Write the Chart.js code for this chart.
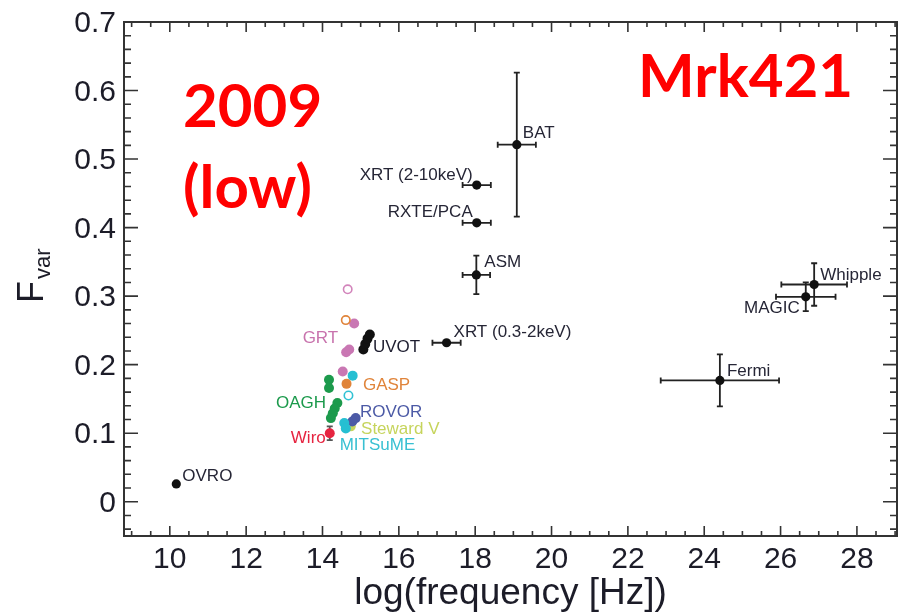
<!DOCTYPE html>
<html>
<head>
<meta charset="utf-8">
<script src="https://cdn.jsdelivr.net/npm/chart.js@4.4.1/dist/chart.umd.min.js"></script>
<style>
  html, body { margin: 0; padding: 0; background: #fff; }
  #wrap { width: 899px; height: 616px; }
</style>
</head>
<body>
<div id="wrap"><canvas id="fvar" width="899" height="616"></canvas></div>
<script>
// axis ticks
const xTicks = [10, 12, 14, 16, 18, 20, 22, 24, 26, 28];
const yTicks = [0, 0.1, 0.2, 0.3, 0.4, 0.5, 0.6, 0.7];

// radio / X-ray / gamma instruments (black, with error bars)
const instNames = ['OVRO', 'BAT', 'XRT (2-10keV)', 'RXTE/PCA', 'ASM', 'XRT (0.3-2keV)', 'Whipple', 'MAGIC', 'Fermi'];
const instLogF  = [10.17, 19.09, 18.04, 18.04, 18.03, 17.25, 26.88, 26.66, 24.41];
const instFvar  = [0.026, 0.521, 0.462, 0.407, 0.331, 0.232, 0.317, 0.299, 0.177];
const instErrF  = [0, 0.50, 0.37, 0.37, 0.36, 0.37, 0.86, 0.78, 1.55];
const instErrV  = [0, 0.105, 0, 0, 0.028, 0, 0.031, 0.021, 0.038];

// optical / UV observatories
const uvotLogF = [15.07, 15.12, 15.18, 15.24];
const uvotFvar = [0.222, 0.230, 0.238, 0.244];
const grtLogF = [14.83, 14.70, 14.62, 14.53];
const grtFvar = [0.260, 0.222, 0.218, 0.190];
const grtOpenLogF = [14.66];
const grtOpenFvar = [0.310];
const gaspLogF = [14.63];
const gaspFvar = [0.172];
const gaspOpenLogF = [14.61];
const gaspOpenFvar = [0.265];
const mitsumeLogF = [14.79, 14.57, 14.61];
const mitsumeFvar = [0.184, 0.115, 0.107];
const mitsumeOpenLogF = [14.68];
const mitsumeOpenFvar = [0.155];
const oaghLogF = [14.17, 14.17, 14.39, 14.32, 14.27, 14.22];
const oaghFvar = [0.178, 0.166, 0.144, 0.136, 0.129, 0.122];
const rovorLogF = [14.87, 14.78];
const rovorFvar = [0.122, 0.117];
const stewardLogF = [14.74];
const stewardFvar = [0.110];
const wiroLogF = [14.19];
const wiroFvar = [0.100];
const wiroErrV = [0.010];

const pts = (xs, ys) => xs.map((x, i) => ({ x: x, y: ys[i] }));

// where each instrument name sits relative to its point (px)
const instLabelPos = [
  { dx: 6, dy: -8, align: 'left' },
  { dx: 6, dy: -11, align: 'left' },
  { dx: -4, dy: -10, align: 'right' },
  { dx: -4, dy: -10, align: 'right' },
  { dx: 8, dy: -13, align: 'left' },
  { dx: 7, dy: -10, align: 'left' },
  { dx: 6, dy: -9, align: 'left' },
  { dx: -6, dy: 11, align: 'right' },
  { dx: 7, dy: -9, align: 'left' }
];

// names of the optical groups, anchored in data units
const groupLabels = [
  { text: 'GRT', x: 13.48, y: 0.239, color: '#c873ad' },
  { text: 'UVOT', x: 15.32, y: 0.226, color: '#1e1e30' },
  { text: 'GASP', x: 15.06, y: 0.170, color: '#e0843a' },
  { text: 'OAGH', x: 12.78, y: 0.144, color: '#1c9a4c' },
  { text: 'ROVOR', x: 14.98, y: 0.131, color: '#4c5aa6' },
  { text: 'Steward V', x: 15.01, y: 0.105, color: '#c6d45c' },
  { text: 'Wiro', x: 13.17, y: 0.093, color: '#e62440' },
  { text: 'MITSuME', x: 14.45, y: 0.083, color: '#38c0d2' }
];

const LABEL_FONT = '17px "Liberation Sans", Arial, sans-serif';

function filled(data, color, r) {
  return { data: data, pointRadius: r || 5, pointBackgroundColor: color, pointBorderColor: color, pointBorderWidth: 0, showLine: false };
}
function open(data, color) {
  return { data: data, pointRadius: 4.2, pointBackgroundColor: '#fff', pointBorderColor: color, pointBorderWidth: 1.6, showLine: false };
}

const errorBars = {
  id: 'errorBars',
  beforeDatasetsDraw(chart) {
    const { ctx, scales: { x, y } } = chart;
    const cap = 3;
    ctx.save();
    ctx.lineWidth = 1.8;
    chart.data.datasets.forEach(ds => {
      if (!ds.errX && !ds.errY) return;
      ctx.strokeStyle = ds.errColor || '#222';
      ds.data.forEach((p, i) => {
        const ex = ds.errX ? ds.errX[i] : 0;
        const ey = ds.errY ? ds.errY[i] : 0;
        const px = x.getPixelForValue(p.x);
        const py = y.getPixelForValue(p.y);
        ctx.beginPath();
        if (ex > 0) {
          const l = x.getPixelForValue(p.x - ex), r = x.getPixelForValue(p.x + ex);
          ctx.moveTo(l, py); ctx.lineTo(r, py);
          ctx.moveTo(l, py - cap); ctx.lineTo(l, py + cap);
          ctx.moveTo(r, py - cap); ctx.lineTo(r, py + cap);
        }
        if (ey > 0) {
          const t = y.getPixelForValue(p.y + ey), b = y.getPixelForValue(p.y - ey);
          ctx.moveTo(px, t); ctx.lineTo(px, b);
          ctx.moveTo(px - cap, t); ctx.lineTo(px + cap, t);
          ctx.moveTo(px - cap, b); ctx.lineTo(px + cap, b);
        }
        ctx.stroke();
      });
    });
    ctx.restore();
  }
};

const annotations = {
  id: 'annotations',
  afterDatasetsDraw(chart) {
    const { ctx, scales: { x, y } } = chart;
    ctx.save();
    ctx.font = LABEL_FONT;
    ctx.textBaseline = 'middle';
    // instrument names next to the black points
    ctx.fillStyle = '#262636';
    instNames.forEach((name, i) => {
      const pos = instLabelPos[i];
      ctx.textAlign = pos.align;
      ctx.fillText(name, x.getPixelForValue(instLogF[i]) + pos.dx, y.getPixelForValue(instFvar[i]) + pos.dy);
    });
    // optical group names
    ctx.textAlign = 'left';
    groupLabels.forEach(g => {
      ctx.fillStyle = g.color;
      ctx.fillText(g.text, x.getPixelForValue(g.x), y.getPixelForValue(g.y));
    });
    ctx.restore();
  }
};

// boxed frame with inward ticks on all four sides, plus the big red headings
const frame = {
  id: 'frame',
  afterDraw(chart) {
    const { ctx, chartArea: a, scales: { x, y } } = chart;
    ctx.save();
    ctx.strokeStyle = '#333';
    ctx.lineWidth = 2;
    ctx.strokeRect(a.left, a.top, a.right - a.left, a.bottom - a.top);
    ctx.lineWidth = 1.6;
    ctx.beginPath();
    for (let v = 9; v <= 29; v += 0.5) {
      const px = x.getPixelForValue(v);
      if (px <= a.left + 1 || px >= a.right - 1) continue;
      const len = (v % 2 === 0) ? 10 : 5;
      ctx.moveTo(px, a.bottom); ctx.lineTo(px, a.bottom - len);
      ctx.moveTo(px, a.top); ctx.lineTo(px, a.top + len);
    }
    for (let k = -2; k <= 35; k++) {
      const v = k * 0.02;
      const py = y.getPixelForValue(v);
      if (py <= a.top + 1 || py >= a.bottom - 1) continue;
      const len = (k % 5 === 0) ? 14 : 7;
      ctx.moveTo(a.left, py); ctx.lineTo(a.left + len, py);
      ctx.moveTo(a.right, py); ctx.lineTo(a.right - len, py);
    }
    ctx.stroke();

    // y axis title: F with "var" subscript, rotated
    ctx.fillStyle = '#1c1c28';
    ctx.translate(43, 303);
    ctx.rotate(-Math.PI / 2);
    ctx.textAlign = 'left';
    ctx.textBaseline = 'alphabetic';
    ctx.font = '36px "Liberation Sans", Arial, sans-serif';
    ctx.fillText('F', 0, 0);
    const fw = ctx.measureText('F').width;
    ctx.font = '22px "Liberation Sans", Arial, sans-serif';
    ctx.fillText('var', fw + 2, 7);
    ctx.restore();

    ctx.save();
    ctx.fillStyle = '#ff0000';
    ctx.font = 'bold 60px Lato, "Open Sans", sans-serif';
    ctx.textAlign = 'left';
    ctx.textBaseline = 'alphabetic';
    ctx.fillText('Mrk421', 638, 97);
    ctx.fillText('2009', 183, 127);
    ctx.fillText('(low)', 183, 208);
    ctx.restore();
  }
};

const instData = pts(instLogF, instFvar);

new Chart(document.getElementById('fvar'), {
  type: 'scatter',
  data: {
    datasets: [
      open(pts(grtOpenLogF, grtOpenFvar), '#d284bb'),
      open(pts(gaspOpenLogF, gaspOpenFvar), '#e0843a'),
      open(pts(mitsumeOpenLogF, mitsumeOpenFvar), '#30c2d4'),
      filled(pts(grtLogF, grtFvar), '#c977b3'),
      filled(pts(gaspLogF, gaspFvar), '#e0843a'),
      filled(pts(mitsumeLogF, mitsumeFvar), '#26bfd2'),
      filled(pts(oaghLogF, oaghFvar), '#1c9a4c'),
      filled(pts(rovorLogF, rovorFvar), '#4c5aa6'),
      filled(pts(stewardLogF, stewardFvar), '#c6d45c'),
      Object.assign(filled(pts(wiroLogF, wiroFvar), '#e62440'), { errY: wiroErrV, errColor: '#555' }),
      filled(pts(uvotLogF, uvotFvar), '#111', 5),
      Object.assign(filled(instData, '#111', 4.6), { errX: instErrF, errY: instErrV })
    ]
  },
  options: {
    responsive: false,
    animation: false,
    layout: { autoPadding: false, padding: { top: 22, right: 2, left: 0, bottom: 0 } },
    plugins: { legend: { display: false }, tooltip: { enabled: false } },
    scales: {
      x: {
        type: 'linear',
        min: 8.8,
        max: 29.05,
        grid: { display: false, drawTicks: false },
        border: { display: false },
        afterBuildTicks: s => { s.ticks = xTicks.map(v => ({ value: v })); },
        afterFit: s => { s.height = 80; s.paddingLeft = 0; s.paddingRight = 0; },
        ticks: {
          padding: 6,
          maxRotation: 0,
          color: '#1c1c28',
          font: { family: '"Liberation Sans", Arial, sans-serif', size: 30 },
          callback: v => String(v)
        },
        title: {
          display: true,
          text: 'log(frequency [Hz])',
          color: '#1c1c28',
          padding: { top: 0, bottom: 0 },
          font: { family: '"Liberation Sans", Arial, sans-serif', size: 37 }
        }
      },
      y: {
        type: 'linear',
        min: -0.05,
        max: 0.7,
        grid: { display: false, drawTicks: false },
        border: { display: false },
        afterBuildTicks: s => { s.ticks = yTicks.map(v => ({ value: v })); },
        afterFit: s => { s.width = 124; s.paddingTop = 0; s.paddingBottom = 0; },
        ticks: {
          padding: 8,
          labelOffset: 2,
          color: '#1c1c28',
          font: { family: '"Liberation Sans", Arial, sans-serif', size: 30 },
          callback: v => (v === 0 ? '0' : v.toFixed(1))
        }
      }
    }
  },
  plugins: [errorBars, annotations, frame]
});
</script>
</body>
</html>
